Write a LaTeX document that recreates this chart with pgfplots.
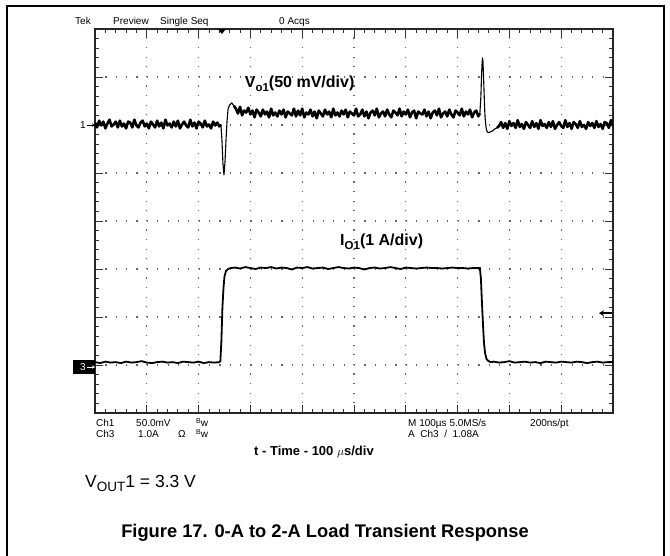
\documentclass[border=0pt]{standalone}
\usepackage{pgfplots}
\pgfplotsset{compat=1.18}
\usepackage{pgfplotstable}
\usepackage{fontspec}
\setmainfont{Liberation Sans}
\usetikzlibrary{arrows.meta}

% Ch1: output voltage, mV against ground marker (50 mV/div)
\pgfplotstableread{
t v
0 2.5
4 -2.5
8 4.5
12 -0.5
16 3.5
20 -3.5
24 1.5
28 5.5
32 -1.5
36 0.5
40 3.5
44 -2.5
48 4.5
52 -1.5
56 1.5
60 -3.5
64 3.5
68 2.5
72 -2.5
76 5.5
80 -0.5
84 -2.5
88 2.5
92 4.5
96 -1.5
100 1.5
104 -3.5
108 3.5
112 0.5
116 -2.5
120 4.5
124 -1.5
128 2.5
132 -3.5
136 5.5
140 -0.5
144 1.5
148 -2.5
152 3.5
156 -1.5
160 4.5
164 -3.5
168 0.5
172 3.5
176 -0.5
180 -2.5
184 5.5
188 -1.5
192 2.5
196 -3.5
200 3.5
204 1.5
208 -2.5
212 4.5
216 -1.5
220 0.5
224 -3.5
228 3.5
232 -0.5
236 2.5
240 -1.5
243 0.5
245 -15
247 -40
249 -52
251 -38
253 -15
255 5
257 17
260 21
264 23
268 20
272 17
276 12
280 19
284 10
288 15
292 13
296 18
300 11
304 15
308 8
312 16
316 13
320 9
324 16
328 11
332 14
336 8
340 17
344 10
348 13
352 9
356 15
360 11
364 16
368 8
372 14
376 12
380 10
384 17
388 9
392 15
396 10
400 17
404 8
408 13
412 11
416 16
420 9
424 14
428 7
432 15
436 12
440 9
444 16
448 11
452 14
456 8
460 17
464 10
468 13
472 9
476 15
480 11
484 16
488 8
492 14
496 12
500 10
504 17
508 9
512 11
516 16
520 9
524 14
528 7
532 13
536 15
540 10
544 17
548 8
552 12
556 14
560 9
564 16
568 11
572 8
576 15
580 13
584 10
588 17
592 9
596 14
600 11
604 16
608 8
612 13
616 15
620 7
624 14
628 12
632 11
636 16
640 9
644 14
648 7
652 13
656 15
660 10
664 17
668 8
672 12
676 14
680 9
684 16
688 11
692 8
696 15
700 13
704 10
708 17
712 9
716 14
720 11
724 16
728 8
732 13
736 15
740 9
743 12
745 30
746 48
747 62
748 70
749 66
750 52
751 36
752 20
753 8
755 -3
757 -7
760 -8
764 -7
768 -6
772 -4
776 -3
780 -1
784 3
788 -3
792 2
796 -4
800 4
804 -1
808 2
812 -3
816 5
820 -2
824 1
828 -4
832 3
836 0
840 -3
844 4
848 -2
852 2
856 -4
860 5
864 -1
868 1
872 -3
876 3
880 -2
884 4
888 -4
892 0
896 3
900 -1
904 -3
908 5
912 -2
916 2
920 -4
924 3
928 1
932 -3
936 4
940 -2
944 0
948 -4
952 3
956 -1
960 2
964 -3
968 4
972 -2
976 1
980 -4
984 3
988 2
992 -3
996 5
1000 -1
}\vone

% Ch3: load current, A (1 A/div)
\pgfplotstableread{
t a
0 0.06
10 0.04
20 0.07
30 0.05
40 0.06
50 0.04
60 0.07
70 0.05
80 0.06
90 0.08
100 0.05
110 0.04
120 0.06
130 0.07
140 0.05
150 0.06
160 0.04
170 0.07
180 0.06
190 0.05
200 0.07
210 0.04
220 0.06
230 0.05
240 0.06
242 0.08
244 0.5
246 1.2
248 1.6
250 1.85
253 1.96
257 2.0
262 2.02
270 2.03
280 2.01
290 2.04
300 2.02
310 2.00
320 2.03
330 2.02
340 2.04
350 2.01
360 2.03
370 2.02
380 1.99
390 2.03
400 2.02
410 2.04
420 2.01
430 2.02
440 2.03
450 2.00
460 2.02
470 2.04
480 2.02
490 2.01
500 2.03
510 2.02
520 1.99
530 2.02
540 2.03
550 2.01
560 2.02
570 2.04
580 2.02
590 2.00
600 2.03
610 2.02
620 2.01
630 2.02
640 2.03
650 2.02
660 2.02
670 2.01
680 2.02
690 2.03
700 2.02
710 2.02
720 2.01
730 2.02
740 2.02
743 2.02
745 1.8
747 1.3
749 0.85
751 0.45
753 0.25
756 0.12
760 0.08
764 0.06
770 0.07
780 0.05
790 0.06
800 0.08
810 0.05
820 0.06
830 0.07
840 0.05
850 0.06
860 0.04
870 0.07
880 0.06
890 0.05
900 0.07
910 0.06
920 0.05
930 0.07
940 0.06
950 0.04
960 0.06
970 0.07
980 0.05
990 0.06
1000 0.06
}\ithree

\begin{document}
\begin{tikzpicture}[x=1pt,y=-1pt]
\path[use as bounding box] (0,0) rectangle (670,556);

% page frame
\draw[line width=1.2pt] (7,556) -- (7,6) -- (664,6) -- (664,556);

% scope header
\begin{scope}[every node/.style={anchor=base west, inner sep=0pt, font=\fontsize{10}{12}\selectfont}]
\node at (75,25) {Tek};
\node at (113,25) {Preview};
\node at (160,25) {Single Seq};
\node at (279,25) {0 Acqs};
\end{scope}

\begin{axis}[
    at={(95pt,-413pt)}, anchor=south west,
    scale only axis, width=518pt, height=384pt,
    xmin=0, xmax=1000, ymin=0, ymax=8,
    xtick={0,100,...,1000}, ytick={0,1,...,8},
    minor x tick num=4, minor y tick num=4,
    xticklabels={}, yticklabels={},
    tick align=inside,
    major tick length=8pt, minor tick length=4pt,
    tick style={line width=0.9pt, black!80},
    axis line style={line width=1.3pt, black!85},
    grid=major,
    major x grid style={line width=1.2pt, black!60, dash pattern=on 1.2pt off 8.4pt},
    major y grid style={line width=1.2pt, black!60, dash pattern=on 1.2pt off 9.16pt},
]
% thin trace through the transients, thick noisy band where it is steady
\addplot[black, line width=1.1pt, line join=round] table[x=t, y expr=\thisrow{v}/50+6] {\vone};
\addplot[black, line width=2.6pt, line join=round, restrict x to domain=0:243] table[x=t, y expr=\thisrow{v}/50+6] {\vone};
\addplot[black, line width=2.6pt, line join=round, restrict x to domain=268:743] table[x=t, y expr=\thisrow{v}/50+6] {\vone};
\addplot[black, line width=2.6pt, line join=round, restrict x to domain=776:1000] table[x=t, y expr=\thisrow{v}/50+6] {\vone};
\addplot[black, line width=1.8pt] table[x=t, y expr=\thisrow{a}+1] {\ithree};

% trigger position and level markers
\fill[black] ([xshift=-4pt]axis cs:245,8) -- ([xshift=4pt]axis cs:245,8) -- ([yshift=-5pt]axis cs:245,8) -- cycle;
\draw[line width=1.6pt, -{Stealth[length=5pt,width=6pt]}] ([xshift=-1pt]axis cs:1000,2.08) -- ++(-13pt,0);

\node[anchor=base west, inner sep=0pt, font=\bfseries\fontsize{16}{19}\selectfont]
  at (axis cs:289,6.79) {V\raisebox{-4pt}{\fontsize{11.5}{12}\selectfont o1}(50 mV/div)};
\node[anchor=base west, inner sep=0pt, font=\bfseries\fontsize{16}{19}\selectfont]
  at (axis cs:473,3.48) {I\raisebox{-4pt}{\fontsize{11.5}{12}\selectfont O1}(1 A/div)};
\end{axis}

% channel ground markers
\node[anchor=east, inner sep=0pt, font=\fontsize{10}{12}\selectfont] at (86,125.5) {1};
\draw[line width=0.8pt, -{Stealth[length=3pt,width=3.5pt]}] (87,125) -- (95,125);
\fill[black] (73,360) rectangle (95,374);
\node[anchor=east, inner sep=0pt, text=white, font=\fontsize{10}{12}\selectfont] at (86,367.5) {3};
\draw[white, line width=0.8pt, -{Stealth[length=3pt,width=3.5pt]}] (87,367) -- (95,367);

% scope readout
\begin{scope}[every node/.style={anchor=base west, inner sep=0pt, font=\fontsize{10}{12}\selectfont}]
\node at (96,426) {Ch1};
\node at (136,426) {50.0mV};
\node at (196,426) {\raisebox{2.5pt}{\fontsize{7}{8}\selectfont B}w};
\node at (96,437) {Ch3};
\node at (138,437) {1.0A};
\node at (178,437) {Ω};
\node at (196,437) {\raisebox{2.5pt}{\fontsize{7}{8}\selectfont B}w};
\node at (408,426) {M 100µs 5.0MS/s};
\node at (530,426) {200ns/pt};
\node at (408,437) {A\ \ Ch3\ \ /\ \ 1.08A};
\end{scope}

% captions
\node[anchor=base, inner sep=0pt, font=\bfseries\fontsize{13}{15}\selectfont] at (314,455) {t - Time - 100 $\mu$s/div};
\node[anchor=base west, inner sep=0pt, font=\fontsize{17.5}{20}\selectfont] at (85,487)
  {V\raisebox{-4.5pt}{\fontsize{13.5}{15}\selectfont OUT}1 = 3.3 V};
\node[anchor=base, inner sep=0pt, font=\bfseries\fontsize{18.3}{22}\selectfont] at (325,537)
  {Figure 17. 0-A to 2-A Load Transient Response};
\end{tikzpicture}
\end{document}
